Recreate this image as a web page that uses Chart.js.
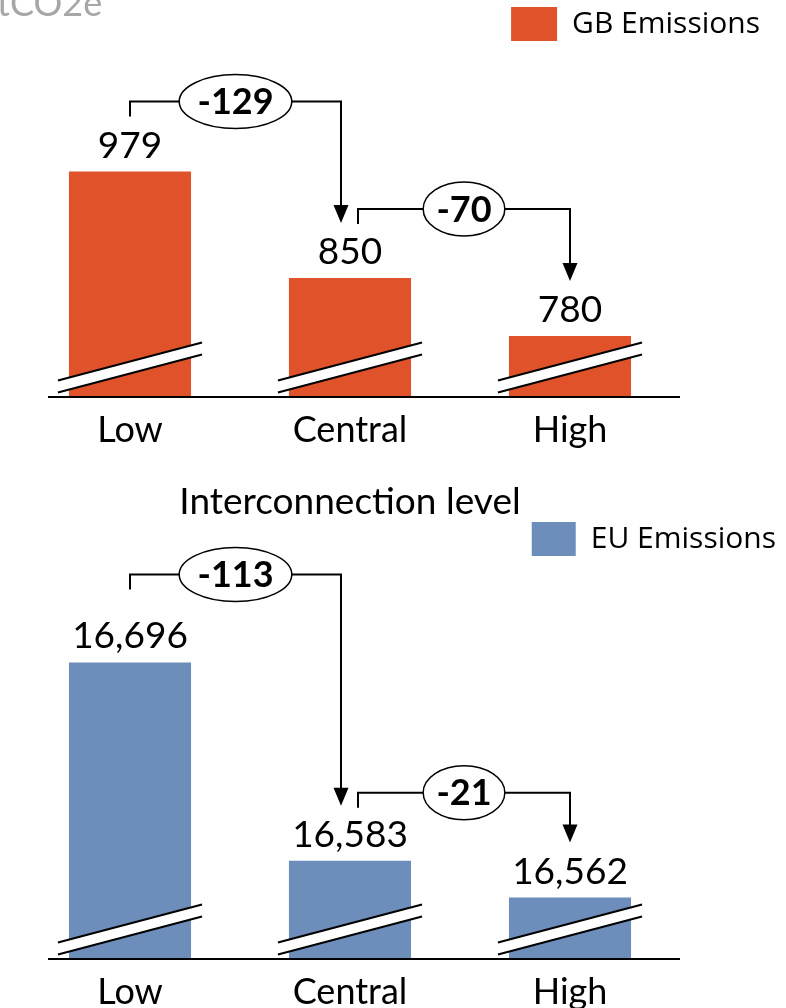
<!DOCTYPE html>
<html>
<head>
<meta charset="utf-8">
<script src="https://cdn.jsdelivr.net/npm/chart.js@4.4.1/dist/chart.umd.min.js"></script>
<style>
body{margin:0;background:#fff;width:786px;height:1008px;overflow:hidden;position:relative}
.box{position:absolute;left:0;width:786px}
</style>
</head>
<body>
<div class="box" style="top:0;height:525px"><canvas id="gb"></canvas></div>
<div class="box" style="top:510px;height:498px"><canvas id="eu"></canvas></div>
<script>
var categories = ['Low', 'Central', 'High'];
var gbValues = [979, 850, 780];
var euValues = [16696, 16583, 16562];
var gbChanges = [-129, -70];
var euChanges = [-113, -21];

var GB_COLOR = '#e0532a';
var EU_COLOR = '#6d8dba';

Chart.defaults.font.family = 'Lato';
Chart.defaults.color = '#000';

//draws baseline, axis break marks, value labels and the change arrows
var annotate = {
  id: 'annotate',
  afterDatasetsDraw: function(chart, args, opts){
    var ctx = chart.ctx, area = chart.chartArea;
    var bars = chart.getDatasetMeta(0).data;
    var values = chart.data.datasets[0].data;
    var b = area.bottom;
    ctx.save();
    ctx.lineWidth = 2;
    ctx.strokeStyle = '#000';
    //baseline
    ctx.beginPath();
    ctx.moveTo(opts.axisStart, b);
    ctx.lineTo(area.right, b);
    ctx.stroke();
    //break marks
    bars.forEach(function(bar){
      var l = bar.x - bar.width/2 - 11, r = bar.x + bar.width/2 + 11;
      ctx.beginPath();
      ctx.moveTo(l, b-16.5); ctx.lineTo(r, b-54.5);
      ctx.lineTo(r, b-42.5); ctx.lineTo(l, b-4.5);
      ctx.closePath();
      ctx.fillStyle = '#fff';
      ctx.fill();
      ctx.beginPath();
      ctx.moveTo(l, b-16.5); ctx.lineTo(r, b-54.5);
      ctx.moveTo(l, b-4.5); ctx.lineTo(r, b-42.5);
      ctx.stroke();
    });
    //value labels
    ctx.fillStyle = '#000';
    ctx.font = '37px Lato';
    ctx.textAlign = 'center';
    ctx.textBaseline = 'middle';
    var labelY = bars.map(function(bar){ return bar.y - 26; });
    bars.forEach(function(bar, i){
      ctx.fillText(values[i].toLocaleString('en-US'), bar.x, labelY[i]);
    });
    //change arrows
    opts.changes.forEach(function(change, i){
      var x1 = bars[i].x + (i > 0 ? 8 : 0);
      var x2 = bars[i+1].x - (i+1 < opts.changes.length ? 9 : 0);
      var ly = labelY[i] - opts.rise[i];
      var tip = labelY[i+1] - 29;
      ctx.beginPath();
      ctx.moveTo(x1, ly + 15);
      ctx.lineTo(x1, ly);
      ctx.lineTo(x2, ly);
      ctx.lineTo(x2, tip - 16);
      ctx.stroke();
      ctx.beginPath();
      ctx.moveTo(x2 - 7.5, tip - 18);
      ctx.lineTo(x2 + 7.5, tip - 18);
      ctx.lineTo(x2, tip);
      ctx.closePath();
      ctx.fillStyle = '#000';
      ctx.fill();
      //ellipse with the change value
      var txt = String(change);
      ctx.font = 'bold 36px Lato';
      var tw = ctx.measureText(txt).width;
      var cx = (x1 + x2)/2;
      ctx.beginPath();
      ctx.ellipse(cx, ly, tw*0.74, opts.ry, 0, 0, Math.PI*2);
      ctx.fillStyle = '#fff';
      ctx.fill();
      ctx.lineWidth = 1.5;
      ctx.stroke();
      ctx.lineWidth = 2;
      ctx.fillStyle = '#000';
      ctx.fillText(txt, cx, ly + 1);
    });
    if (opts.unit) {
      ctx.font = '36px Lato';
      ctx.fillStyle = '#a6a6a6';
      ctx.textAlign = 'left';
      ctx.textBaseline = 'alphabetic';
      ctx.fillText(opts.unit, -3, 16);
    }
    ctx.restore();
  }
};

function makechart(id, label, values, color, setup){
  var ctx = document.getElementById(id).getContext('2d');
  return new Chart(ctx, {
    type: 'bar',
    data: {
      labels: categories,
      datasets: [{
        label: label,
        data: values,
        backgroundColor: color,
        borderWidth: 0,
        categoryPercentage: 1,
        barPercentage: 0.555
      }]
    },
    options: {
      responsive: true,
      maintainAspectRatio: false,
      animation: false,
      layout: { padding: { left: 20, right: setup.padRight, top: setup.padTop, bottom: 0 } },
      plugins: {
        legend: {
          align: 'end',
          labels: {
            boxWidth: setup.boxWidth,
            boxHeight: 34,
            padding: 7,
            color: '#000',
            font: { family: 'Open Sans', size: 30 }
          }
        },
        tooltip: { enabled: false },
        annotate: {
          axisStart: 48,
          changes: setup.changes,
          rise: setup.rise,
          ry: 27,
          unit: setup.unit
        }
      },
      scales: {
        x: {
          grid: { display: false, drawTicks: false },
          border: { display: false },
          ticks: { font: { size: 36 }, color: '#000', padding: 12 },
          title: {
            display: !!setup.title,
            text: setup.title,
            color: '#000',
            font: { size: 37 },
            padding: { top: 0, bottom: 1 }
          },
          afterFit: function(scale){ scale.height = setup.xHeight; }
        },
        y: {
          position: 'right',
          min: setup.min,
          max: setup.max,
          grid: { display: false },
          border: { display: false },
          ticks: { display: false },
          afterFit: function(scale){ scale.width = setup.yWidth; }
        }
      }
    },
    plugins: [annotate]
  });
}

makechart('gb', 'GB Emissions', gbValues, GB_COLOR, {
  padTop: 0, padRight: 19, yWidth: 87, xHeight: 128, boxWidth: 46,
  min: 706, max: 1125, changes: gbChanges, rise: [44, 43],
  title: 'Interconnection level', unit: 'tCO2e'
});
makechart('eu', 'EU Emissions', euValues, EU_COLOR, {
  padTop: 5, padRight: 3, yWidth: 103, xHeight: 49, boxWidth: 44,
  min: 16527, max: 16751, changes: euChanges, rise: [62, 42],
  title: '', unit: ''
});
</script>
</body>
</html>
